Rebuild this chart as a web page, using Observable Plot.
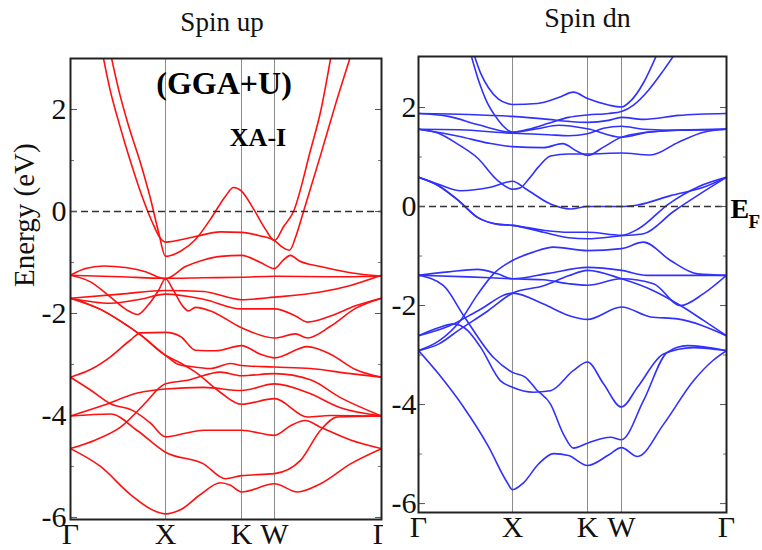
<!DOCTYPE html>
<html><head><meta charset="utf-8">
<script src="https://cdn.jsdelivr.net/npm/d3@7"></script>
<script src="https://cdn.jsdelivr.net/npm/@observablehq/plot@0.6"></script>
<style>
body{margin:0;background:#fff;}
#wrap{position:relative;width:762px;height:550px;overflow:hidden;background:#fff;}
#wrap svg{position:absolute;top:0;}
</style></head><body><div id="wrap"></div>
<script>
// ---- data ----
const kLabels = ["Γ","X","K","W","Γ"];
const kTicksUp = [0,95,171,204,311];
const kTicksDn = [0,94,169,203,308];
const majorE = [-6,-4,-2,0,2];
const minorE = [-5,-3,-1,1];
const titles = ["Spin up","Spin dn"];

// spin-up bands: [k, E(eV)]
const spinUpBands = [
 [[32,3.1],[40,2.35],[47,1.84],[55,1.3],[62,0.86],[73,0.22],[82,-0.22],[89,-0.50],[95,-0.60],[123,-0.50],[150,-0.40],[171,-0.41],[190,-0.48],[204,-0.57],[212,-0.70],[219,-0.76],[226,-0.45],[233,0],[250,1.1],[265,2.1],[281,3.1]],
 [[40,3.1],[48,2.4],[57,1.75],[70,0.95],[80,0.25],[88,-0.40],[95,-0.88],[110,-0.78],[125,-0.55],[140,-0.15],[155,0.30],[163,0.47],[171,0.40],[183,0.05],[195,-0.35],[204,-0.57],[213,-0.30],[223,0],[240,1.2],[250,1.95],[261,3.1]],
 [[0,-1.25],[15,-1.12],[33,-1.07],[55,-1.10],[75,-1.18],[95,-1.32],[115,-1.08],[133,-0.95],[150,-0.88],[171,-0.86],[190,-1.0],[204,-1.12],[213,-0.95],[220,-0.86],[228,-0.96],[250,-1.08],[280,-1.20],[311,-1.27]],
 [[0,-1.25],[50,-1.28],[95,-1.31],[133,-1.30],[171,-1.29],[204,-1.27],[260,-1.28],[311,-1.27]],
 [[0,-1.25],[20,-1.38],[40,-1.68],[58,-1.95],[67,-2.02],[77,-1.85],[88,-1.55],[95,-1.32],[103,-1.55],[112,-1.85],[118,-1.95],[125,-1.88],[140,-1.95],[171,-2.28],[204,-2.48],[225,-2.40],[237,-2.48],[260,-2.25],[285,-1.90],[311,-1.70]],
 [[0,-1.70],[50,-1.62],[95,-1.55],[133,-1.57],[171,-1.73],[204,-1.68],[250,-1.58],[280,-1.45],[311,-1.25]],
 [[0,-1.70],[40,-1.80],[70,-1.72],[95,-1.62],[133,-1.72],[171,-1.91],[204,-1.91],[225,-2.05],[237,-2.17],[260,-2.05],[285,-1.85],[311,-1.70]],
 [[0,-1.70],[30,-1.92],[50,-2.15],[70,-2.42],[95,-2.82],[110,-2.97],[125,-3.15],[150,-3.55],[171,-3.78],[204,-3.67],[237,-4.03],[260,-4.0],[311,-4.01]],
 [[0,-1.70],[30,-1.92],[50,-2.15],[70,-2.42],[95,-2.82],[108,-3.0],[120,-3.04],[140,-3.08],[160,-2.98],[171,-3.02],[204,-3.05],[240,-3.08],[280,-3.18],[311,-3.25]],
 [[0,-3.25],[20,-3.1],[40,-2.85],[60,-2.52],[70,-2.38],[95,-2.37],[110,-2.45],[125,-2.72],[145,-2.73],[171,-2.63],[190,-2.8],[204,-2.87],[237,-2.65],[260,-2.8],[285,-3.1],[311,-3.25]],
 [[0,-4.01],[33,-3.80],[67,-3.56],[95,-3.48],[133,-3.45],[171,-3.51],[204,-3.38],[237,-3.55],[270,-3.85],[311,-4.01]],
 [[0,-4.65],[25,-4.48],[50,-4.23],[75,-3.75],[90,-3.44],[95,-3.38],[117,-3.31],[150,-3.15],[171,-3.22],[204,-3.18],[240,-3.3],[270,-3.65],[311,-4.01]],
 [[0,-3.25],[20,-3.5],[40,-3.77],[62,-3.90],[80,-4.15],[95,-4.42],[115,-4.35],[133,-4.29],[171,-4.29],[204,-4.39],[220,-4.2],[235,-4.1],[250,-4.23],[280,-4.48],[311,-4.65]],
 [[0,-4.01],[40,-3.97],[67,-4.3],[95,-4.72],[133,-4.95],[155,-5.24],[171,-5.18],[204,-5.14],[230,-4.88],[250,-4.29],[267,-4.03],[311,-4.01]],
 [[0,-4.65],[30,-5.0],[60,-5.55],[85,-5.88],[95,-5.93],[110,-5.85],[130,-5.55],[150,-5.32],[160,-5.37],[171,-5.50],[204,-5.34],[227,-5.50],[250,-5.34],[280,-4.95],[311,-4.65]]
];

// spin-down bands: [k, E(eV)]
const spinDnBands = [
 [[55,3.1],[62,2.7],[70,2.4],[80,2.17],[89,2.08],[94,2.06],[119,2.08],[140,2.2],[155,2.31],[169,2.18],[190,2.05],[203,2.01],[213,2.15],[225,2.5],[239,3.1]],
 [[52,3.1],[60,2.55],[68,2.13],[76,1.85],[84,1.64],[94,1.50],[110,1.56],[130,1.68],[150,1.80],[169,1.85],[190,1.88],[203,1.92],[215,2.05],[230,2.35],[245,2.75],[257,3.1]],
 [[0,1.88],[50,1.86],[94,1.82],[130,1.76],[150,1.72],[169,1.70],[190,1.74],[203,1.80],[225,1.76],[260,1.84],[308,1.88]],
 [[0,1.88],[30,1.82],[60,1.65],[94,1.50],[119,1.57],[140,1.64],[169,1.57],[203,1.40],[230,1.50],[270,1.55],[308,1.56]],
 [[0,1.56],[40,1.55],[94,1.48],[130,1.45],[150,1.43],[169,1.47],[185,1.58],[203,1.62],[225,1.56],[260,1.54],[308,1.56]],
 [[0,1.56],[20,1.48],[40,1.25],[59,0.98],[79,0.53],[94,0.35],[102,0.38],[110,0.55],[120,0.80],[132,1.02],[150,1.06],[169,1.06],[203,1.08],[232,1.04],[260,1.30],[285,1.50],[308,1.56]],
 [[0,1.56],[40,1.42],[70,1.28],[94,1.21],[125,1.19],[144,1.27],[160,1.10],[169,1.03],[185,1.2],[203,1.40],[240,1.52],[308,1.56]],
 [[0,0.59],[20,0.45],[42,0.32],[72,0.39],[94,0.51],[107,0.36],[132,0.05],[152,-0.05],[169,0],[203,0],[219,0.03],[252,0.22],[285,0.39],[308,0.59]],
 [[0,0.59],[20,0.42],[40,0.12],[59,-0.22],[80,-0.36],[94,-0.38],[125,-0.48],[150,-0.52],[169,-0.52],[203,-0.58],[220,-0.45],[250,0.05],[280,0.40],[308,0.59]],
 [[0,0.59],[20,0.42],[40,0.12],[59,-0.22],[80,-0.36],[94,-0.38],[125,-0.52],[150,-0.63],[169,-0.65],[203,-0.59],[225,-0.55],[255,-0.10],[285,0.30],[308,0.59]],
 [[0,-2.91],[20,-2.72],[42,-2.30],[59,-1.78],[75,-1.36],[94,-1.09],[115,-0.92],[135,-0.82],[169,-0.89],[203,-0.85],[225,-0.72],[252,-1.09],[279,-1.36],[308,-1.39]],
 [[0,-1.39],[50,-1.42],[94,-1.46],[125,-1.48],[150,-1.56],[169,-1.59],[203,-1.46],[235,-1.56],[262,-2.0],[285,-1.76],[308,-1.39]],
 [[0,-1.39],[30,-1.32],[59,-1.27],[79,-1.36],[94,-1.46],[130,-1.35],[169,-1.23],[203,-1.29],[229,-1.39],[270,-1.39],[308,-1.39]],
 [[0,-2.91],[20,-2.78],[40,-2.5],[70,-2.1],[94,-1.75],[125,-1.6],[150,-1.40],[169,-1.29],[203,-1.46],[235,-1.70],[262,-2.0],[285,-2.3],[308,-2.61]],
 [[0,-2.61],[30,-2.42],[60,-2.1],[94,-1.75],[125,-1.97],[150,-2.2],[169,-2.28],[203,-2.03],[232,-2.23],[259,-2.27],[308,-2.61]],
 [[0,-1.39],[25,-1.60],[45,-2.20],[75,-3.05],[94,-3.35],[107,-3.45],[118,-3.7],[132,-3.99],[145,-4.6],[155,-4.88],[169,-4.78],[192,-4.66],[203,-4.71],[225,-3.92],[249,-2.94],[269,-2.81],[308,-2.91]],
 [[0,-2.61],[20,-2.45],[35,-2.37],[49,-2.5],[62,-2.84],[82,-3.52],[94,-3.65],[115,-3.75],[132,-3.72],[155,-3.31],[169,-3.14],[185,-3.58],[203,-4.05],[219,-3.65],[245,-2.98],[275,-2.85],[308,-2.91]],
 [[0,-2.91],[20,-3.38],[45,-4.05],[70,-4.85],[88,-5.55],[94,-5.72],[105,-5.58],[120,-5.2],[135,-4.99],[150,-5.03],[169,-5.23],[190,-5.02],[203,-4.87],[219,-5.05],[245,-4.4],[275,-3.52],[295,-3.1],[308,-2.91]]
];

// ---- drawing ----
const rows = bands => bands.flatMap((pts, i) => pts.map(([k, E]) => ({band: i, k, E})));
const serif = "Liberation Serif, Times New Roman, serif";

function panel(o) {
  const tickAxis = (anchor, ticks, size, color) =>
    Plot.axisY({anchor, ticks, tickSize: size, dx: anchor === "left" ? size : -size, stroke: color, tickFormat: () => "", label: null});
  const marks = [
    Plot.ruleX(o.kTicks.slice(1, 4), {stroke: "#8c8c8c", strokeWidth: 1}),
    Plot.line(rows(o.bands), {x: "k", y: "E", z: "band", stroke: o.color, strokeWidth: 1.6, curve: "monotone-x", clip: true}),
    Plot.ruleY([0], {stroke: "#333", strokeWidth: 1.6, strokeDasharray: "7,4"}),
    tickAxis("left", majorE, 7, "#555"),
    tickAxis("left", minorE, 4, "#777"),
    tickAxis("right", majorE, 7, "#555"),
    tickAxis("right", minorE, 4, "#777"),
    Plot.axisY({anchor: "left", ticks: majorE, tickSize: 0, tickPadding: o.labelPad, fontSize: 30, fill: "#111", tickFormat: d => String(d), label: null}),
    Plot.axisX({anchor: "bottom", ticks: o.kTicks, tickSize: 0, tickPadding: 3, fontSize: 30, fill: "#111", tickFormat: d => kLabels[o.kTicks.indexOf(d)], label: null}),
    Plot.frame({stroke: "#222", strokeWidth: 2}),
    Plot.text([o.title], {text: d => d, frameAnchor: "top", dx: o.titleDx, dy: o.titleDy, lineAnchor: "bottom", fontSize: o.titleSize, fill: "#111"}),
    ...o.extras
  ];
  const svg = Plot.plot({
    width: o.width, height: 550,
    marginLeft: o.mL, marginRight: o.mR, marginTop: o.mT, marginBottom: o.mB,
    x: {domain: [0, o.kTicks[4]], label: null},
    y: {domain: o.yDomain, label: null},
    style: {background: "transparent", fontFamily: serif, fontSize: "30px", color: "#111"},
    marks
  });
  svg.style.left = o.left + "px";
  return svg;
}

const wrap = document.getElementById("wrap");
wrap.append(panel({
  bands: spinUpBands, kTicks: kTicksUp, color: "#ff1010", yDomain: [-6.04, 3.0],
  left: 0, width: 383, mL: 70, mR: 2, mT: 58, mB: 31, labelPad: 4,
  title: titles[0], titleDx: -4, titleDy: -28, titleSize: 27,
  extras: [
    Plot.text(["Energy (eV)"], {text: d => d, frameAnchor: "left", rotate: -90, dx: -46, dy: -2, fontSize: 29, fill: "#111"}),
    Plot.text(["(GGA+U)"], {text: d => d, frameAnchor: "top", dx: -2, dy: 35, lineAnchor: "bottom", fontSize: 32, fontWeight: "bold", fill: "#000"}),
    Plot.text(["XA-I"], {text: d => d, frameAnchor: "top", dx: 32, dy: 87, lineAnchor: "bottom", fontSize: 26, fontWeight: "bold", fill: "#000"})
  ]
}));
wrap.append(panel({
  bands: spinDnBands, kTicks: kTicksDn, color: "#3030ff", yDomain: [-6.18, 3.03],
  left: 385, width: 377, mL: 33, mR: 36, mT: 56, mB: 38, labelPad: 2,
  title: titles[1], titleDx: 15, titleDy: -30, titleSize: 28,
  extras: [
    Plot.text(["E"], {text: d => d, frameAnchor: "right", textAnchor: "start", dx: 4, dy: -67, lineAnchor: "bottom", fontSize: 28, fontWeight: "bold", fill: "#000"}),
    Plot.text(["F"], {text: d => d, frameAnchor: "right", textAnchor: "start", dx: 22, dy: -57, lineAnchor: "bottom", fontSize: 19, fontWeight: "bold", fill: "#000"})
  ]
}));
</script></body></html>
